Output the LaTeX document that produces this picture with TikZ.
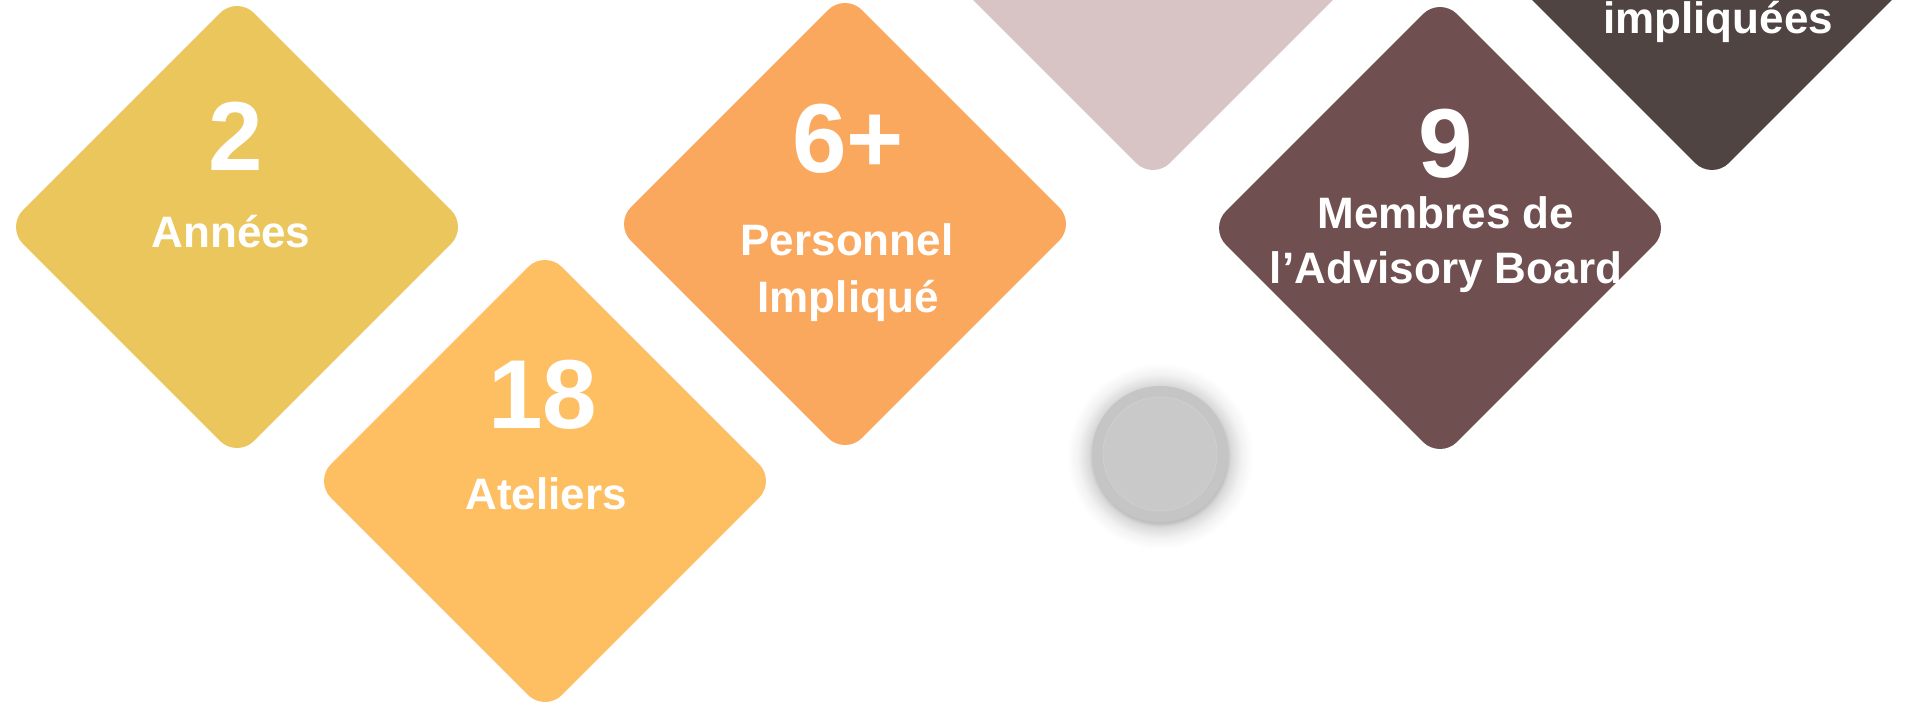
\documentclass[tikz,border=0pt]{standalone}
\usepackage{fontspec}
\setmainfont{Liberation Sans}
\usetikzlibrary{shapes.geometric}
\definecolor{cA}{HTML}{EBC65C}
\definecolor{cB}{HTML}{FDBF62}
\definecolor{cC}{HTML}{F9A85E}
\definecolor{cD}{HTML}{D9C4C5}
\definecolor{cE}{HTML}{704F50}
\definecolor{cF}{HTML}{4F4442}
\definecolor{cG}{HTML}{C5C5C5}
\definecolor{cH}{HTML}{C9C9C9}
\pgfdeclareradialshading{glowshade}{\pgfpoint{0bp}{0bp}}{color(0bp)=(black!25); color(18bp)=(black!25); color(19bp)=(black!15); color(22bp)=(black!5); color(25bp)=(white); color(50bp)=(white)}
\tikzset{
  tile/.style={diamond, aspect=1, minimum width=462pt, minimum height=462pt, inner sep=0pt, rounded corners=24pt, draw=none},
  bignum/.style={text=white, anchor=base, inner sep=0pt, font=\bfseries\fontsize{98}{98}\selectfont},
  lbl/.style={text=white, anchor=base, inner sep=0pt, font=\bfseries\fontsize{44}{55}\selectfont},
}
\begin{document}
\begin{tikzpicture}[x=1pt,y=-1pt]
\useasboundingbox (0,0) rectangle (1921,702);
\clip (0,0) rectangle (1921,702);
\fill[white] (0,0) rectangle (1921,702);
% tiles
\node[tile, fill=cA] (t1) at (237,227) {};
\node[tile, fill=cB] (t2) at (545,481) {};
\node[tile, fill=cC] (t3) at (845,224) {};
\node[tile, fill=cD] (t4) at (1153,-51) {};
\node[tile, fill=cE] (t5) at (1440,228) {};
\node[tile, fill=cF] (t6) at (1712,-51) {};
% texts
\node[bignum] (n1) at (236,170) {2};
\node[lbl] (l1) at (231,247) {Années};
\node[bignum] (n2) at (543,428) {18};
\node[lbl] (l2) at (546,509) {Ateliers};
\node[bignum] (n3) at (848,172) {6+};
\node[lbl] (l3a) at (847,255) {Personnel};
\node[lbl] (l3b) at (848,312) {Impliqué};
\node[bignum] (n5) at (1446,177) {9};
\node[lbl] (l5a) at (1446,228) {Membres de};
\node[lbl] (l5b) at (1446,283) {l’Advisory Board};
\node[lbl] (l6) at (1718,33) {impliquées};
% button
\shade[shading=glowshade] (1160,456) circle (93);
\node[circle, fill=cG, minimum size=136pt, inner sep=0pt] (btn) at (1160,454) {};
\node[circle, fill=cH, draw=black!18, line width=0.6pt, minimum size=114pt, inner sep=0pt] (btnin) at (1160,454) {};
\end{tikzpicture}
\end{document}
